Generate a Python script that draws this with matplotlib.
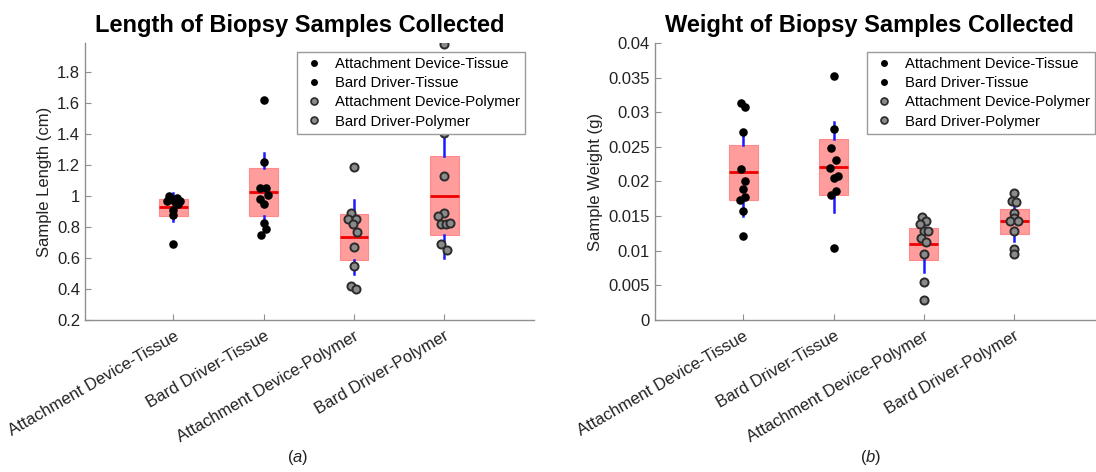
import numpy as np
import matplotlib
matplotlib.use('Agg')
import matplotlib.pyplot as plt
from matplotlib.lines import Line2D

plt.rcParams['font.family'] = ['Liberation Sans', 'DejaVu Sans']
plt.rcParams['mathtext.fontset'] = 'custom'
plt.rcParams['mathtext.rm'] = 'Liberation Sans'
plt.rcParams['mathtext.it'] = 'Liberation Sans:italic'

groups = ['Attachment Device-Tissue', 'Bard Driver-Tissue',
          'Attachment Device-Polymer', 'Bard Driver-Polymer']

# sample length (cm)
len_ad_tissue = [1.00, 0.99, 0.98, 0.97, 0.97, 0.96, 0.95, 0.91, 0.88, 0.69]
len_bd_tissue = [1.62, 1.22, 1.05, 1.05, 1.01, 0.98, 0.95, 0.83, 0.79, 0.75]
len_ad_polymer = [1.19, 0.89, 0.85, 0.85, 0.82, 0.77, 0.67, 0.55, 0.42, 0.40]
len_bd_polymer = [1.98, 1.41, 1.13, 0.89, 0.87, 0.82, 0.82, 0.83, 0.69, 0.65]

# sample weight (g)
wt_ad_tissue = [0.0313, 0.0307, 0.0271, 0.0218, 0.0200, 0.0189, 0.0178, 0.0173, 0.0157, 0.0122]
wt_bd_tissue = [0.0352, 0.0276, 0.0249, 0.0231, 0.0219, 0.0208, 0.0205, 0.0186, 0.0180, 0.0104]
wt_ad_polymer = [0.0149, 0.0143, 0.0138, 0.0128, 0.0128, 0.0119, 0.0112, 0.0095, 0.0055, 0.0029]
wt_bd_polymer = [0.0184, 0.0172, 0.0170, 0.0154, 0.0148, 0.0143, 0.0143, 0.0129, 0.0102, 0.0096]

# horizontal jitter of the dots as seen in the picture
jit_len = [
    [-0.05, 0.04, -0.02, -0.07, 0.07, 0.02, 0.05, 0.0, 0.0, 0.0],
    [0.0, 0.0, -0.037, 0.026, 0.048, -0.044, 0.0, 0.0, 0.026, -0.026],
    [0.0, -0.033, -0.063, 0.02, -0.01, 0.037, 0.0, 0.0, -0.033, 0.02],
    [0.0, 0.0, 0.0, 0.0, -0.067, -0.03, 0.02, 0.063, -0.03, 0.026],
]
jit_wt = [
    [-0.026, 0.022, 0.0, -0.026, 0.022, 0.0, 0.022, -0.033, 0.0, 0.0],
    [0.0, 0.0, -0.026, 0.026, -0.044, 0.048, 0.0, 0.026, -0.026, 0.0],
    [-0.026, 0.026, -0.044, 0.0, 0.044, -0.03, 0.02, 0.0, 0.0, 0.0],
    [0.0, -0.022, 0.026, 0.0, 0.0, -0.048, 0.044, 0.0, 0.0, 0.0],
]

# box stats: q1, median, q3, whisker low, whisker high
len_q1 = [0.87, 0.87, 0.585, 0.751]
len_med = [0.93, 1.028, 0.736, 1.004]
len_q3 = [0.985, 1.184, 0.887, 1.259]
len_wlo = [0.84, 0.83, 0.50, 0.60]
len_whi = [1.02, 1.28, 0.978, 1.406]

wt_q1 = [0.0173, 0.0181, 0.0086, 0.0124]
wt_med = [0.0213, 0.0221, 0.0110, 0.0143]
wt_q3 = [0.0252, 0.0261, 0.0133, 0.0160]
wt_wlo = [0.0150, 0.0156, 0.0070, 0.0114]
wt_whi = [0.0275, 0.0286, 0.0144, 0.0171]

len_data = [len_ad_tissue, len_bd_tissue, len_ad_polymer, len_bd_polymer]
wt_data = [wt_ad_tissue, wt_bd_tissue, wt_ad_polymer, wt_bd_polymer]

gray_ax = '#8f8f8f'
txt = '#222222'


def draw_panel(ax, data, jit, q1, med, q3, wlo, whi, title, ylabel):
    stats = []
    for i in range(4):
        stats.append(dict(q1=q1[i], med=med[i], q3=q3[i], whislo=wlo[i], whishi=whi[i], fliers=[]))
    ax.bxp(stats, positions=[1, 2, 3, 4], widths=0.32, patch_artist=True,
           showcaps=False, showfliers=False,
           boxprops=dict(facecolor='#ff9c9c', edgecolor='#ff8a8a', linewidth=0.8),
           medianprops=dict(color='#ee0000', linewidth=2),
           whiskerprops=dict(color='#1a1aff', linewidth=1.8), manage_ticks=False, zorder=1)
    for i in range(4):
        xs = np.full(len(data[i]), i + 1.0) + np.array(jit[i])
        if i < 2:
            ax.scatter(xs, data[i], s=38, color='black', zorder=3, linewidths=0)
        else:
            ax.scatter(xs, data[i], s=34, facecolor='#8a8a8a', edgecolor='#2b2b2b',
                       linewidths=1.4, zorder=3)
    ax.set_xlim(0.02, 5.0)
    ax.set_xticks([1, 2, 3, 4])
    ax.set_xticklabels(groups, rotation=30, ha='right', rotation_mode='anchor', fontsize=12, color=txt)
    ax.set_title(title, fontsize=17, fontweight='bold', pad=8, x=0.477)
    ax.set_ylabel(ylabel, fontsize=12, color=txt)
    for s in ['top', 'right']:
        ax.spines[s].set_visible(False)
    for s in ['left', 'bottom']:
        ax.spines[s].set_color(gray_ax)
        ax.spines[s].set_linewidth(1)
    ax.tick_params(direction='in', length=4, color=gray_ax, labelsize=12, labelcolor=txt)
    ax.tick_params(axis='x', pad=6)

    handles = [
        Line2D([], [], ls='none', marker='o', ms=5, color='black', mew=0),
        Line2D([], [], ls='none', marker='o', ms=5, color='black', mew=0),
        Line2D([], [], ls='none', marker='o', ms=5, mfc='#8a8a8a', mec='#2b2b2b', mew=1.2),
        Line2D([], [], ls='none', marker='o', ms=5, mfc='#8a8a8a', mec='#2b2b2b', mew=1.2),
    ]
    leg = ax.legend(handles, groups, loc='upper right', fontsize=10.7, fancybox=False,
                    framealpha=1, edgecolor='#9a9a9a', borderaxespad=0.6,
                    handlelength=1.6, handletextpad=0.6, labelspacing=0.35,
                    borderpad=0.35)
    leg.get_frame().set_linewidth(1)


fig = plt.figure(figsize=(10.96, 4.72), dpi=100)
ax1 = fig.add_axes([0.0776, 0.322, 0.41, 0.587])
ax2 = fig.add_axes([0.5976, 0.322, 0.41, 0.587])

draw_panel(ax1, len_data, jit_len, len_q1, len_med, len_q3, len_wlo, len_whi,
           'Length of Biopsy Samples Collected', 'Sample Length (cm)')
ax1.set_ylim(0.2, 1.99)
ax1.set_yticks([0.2, 0.4, 0.6, 0.8, 1.0, 1.2, 1.4, 1.6, 1.8])
ax1.set_yticklabels(['0.2', '0.4', '0.6', '0.8', '1', '1.2', '1.4', '1.6', '1.8'])

draw_panel(ax2, wt_data, jit_wt, wt_q1, wt_med, wt_q3, wt_wlo, wt_whi,
           'Weight of Biopsy Samples Collected', 'Sample Weight (g)')
ax2.set_ylim(0, 0.04)
ax2.set_yticks([0, 0.005, 0.01, 0.015, 0.02, 0.025, 0.03, 0.035, 0.04])
ax2.set_yticklabels(['0', '0.005', '0.01', '0.015', '0.02', '0.025', '0.03', '0.035', '0.04'])

fig.text(0.272, 0.022, r'($\mathit{a}$)', ha='center', fontsize=12, color=txt)
fig.text(0.794, 0.022, r'($\mathit{b}$)', ha='center', fontsize=12, color=txt)

fig.savefig('out.png', dpi=100)
